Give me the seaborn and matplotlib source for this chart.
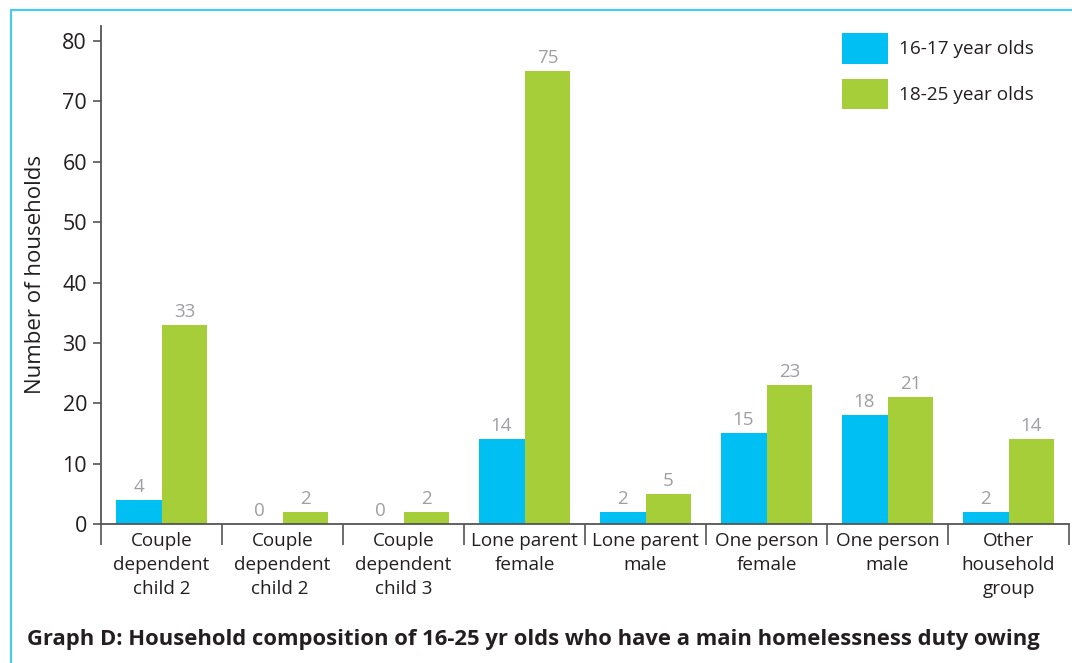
import matplotlib
matplotlib.use("Agg")
import matplotlib.pyplot as plt
from matplotlib.lines import Line2D
import seaborn as sns
import pandas as pd
import numpy as np

categories = [
    "Couple\ndependent\nchild 2",
    "Couple\ndependent\nchild 2 ",
    "Couple\ndependent\nchild 3",
    "Lone parent\nfemale",
    "Lone parent\nmale",
    "One person\nfemale",
    "One person\nmale",
    "Other\nhousehold\ngroup",
]
series = ["16-17 year olds", "18-25 year olds"]
age_16_17 = [4, 0, 0, 14, 2, 15, 18, 2]
age_18_25 = [33, 2, 2, 75, 5, 23, 21, 14]
y_ticks = [0, 10, 20, 30, 40, 50, 60, 70, 80]

df = pd.DataFrame({
    "category": categories * 2,
    "group": [series[0]] * len(categories) + [series[1]] * len(categories),
    "value": age_16_17 + age_18_25,
})

sns.set_theme(style="white")
plt.rcParams["font.family"] = ["Open Sans", "DejaVu Sans"]
text_col = "#231f20"

fig = plt.figure(figsize=(10.72, 6.63), dpi=100)
ax = fig.add_axes([101 / 1072, (663 - 524) / 663, 968 / 1072, (524 - 26) / 663])

palette = {series[0]: "#00bff3", series[1]: "#a6ce39"}
sns.barplot(data=df, x="category", y="value", hue="group", order=categories,
            hue_order=series, palette=palette, width=0.76, saturation=1,
            edgecolor="none", linewidth=0, ax=ax)

for cont in ax.containers:
    ax.bar_label(cont, labels=[f"{v:g}" for v in cont.datavalues], padding=3,
                 color="#9d9fa2", fontsize=13.5)

ax.set_xlim(-0.5, len(categories) - 0.5)
ax.set_ylim(0, 82.5)
ax.set_yticks(y_ticks)
ax.set_yticklabels([str(t) for t in y_ticks], fontsize=15.5, color=text_col)
ax.tick_params(axis="y", which="major", length=6, width=1.2, color="#555555",
               left=True, pad=4)

# category separators as major ticks, names on minor ticks at centres
ax.set_xticks(np.arange(-0.5, len(categories) + 0.5, 1.0))
ax.set_xticklabels([])
ax.set_xticks(np.arange(len(categories)), minor=True)
ax.set_xticklabels(categories, minor=True, fontsize=13.6, color=text_col,
                   linespacing=1.42)
ax.tick_params(axis="x", which="major", length=15, width=1.2, color="#555555",
               bottom=True, direction="out")
ax.tick_params(axis="x", which="minor", length=0, pad=6)

ax.set_xlabel("")
ax.set_ylabel("Number of households", fontsize=16, color=text_col, labelpad=12)

for side in ["top", "right"]:
    ax.spines[side].set_visible(False)
for side in ["left", "bottom"]:
    ax.spines[side].set_color("#555555")
    ax.spines[side].set_linewidth(1.3)

leg = ax.legend(loc="upper left", bbox_to_anchor=(842 / 1072, 1 - 33 / 663),
                bbox_transform=fig.transFigure, frameon=False, fontsize=13.7,
                handlelength=2.4, handleheight=2.1, handletextpad=0.6,
                labelspacing=0.8, borderpad=0, borderaxespad=0)
for t in leg.get_texts():
    t.set_color(text_col)

fig.text(27 / 1072, 1 - 640 / 663,
         "Graph D: Household composition of 16-25 yr olds who have a main homelessness duty owing",
         fontsize=15.8, fontweight="bold", color=text_col, ha="left", va="center")

# light blue frame along top and left edges
frame_col = "#4cc9f0"
fig.add_artist(Line2D([11 / 1072, 1.0], [1 - 10 / 663, 1 - 10 / 663],
                      transform=fig.transFigure, color=frame_col, linewidth=1.6))
fig.add_artist(Line2D([11 / 1072, 11 / 1072], [0.0, 1 - 10 / 663],
                      transform=fig.transFigure, color=frame_col, linewidth=1.6))

fig.savefig("out.png", dpi=100)
